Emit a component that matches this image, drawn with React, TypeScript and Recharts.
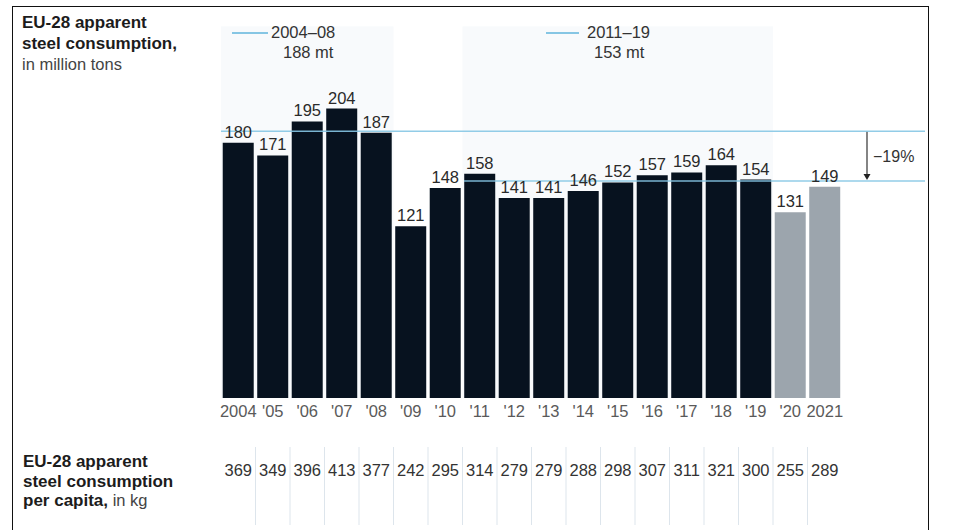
import React from "react";
import { BarChart, Bar, XAxis, YAxis, Cell, LabelList, ReferenceLine, ReferenceArea } from "recharts";

const years = ["2004", "'05", "'06", "'07", "'08", "'09", "'10", "'11", "'12", "'13", "'14", "'15", "'16", "'17", "'18", "'19", "'20", "2021"];
const consumption = [180, 171, 195, 204, 187, 121, 148, 158, 141, 141, 146, 152, 157, 159, 164, 154, 131, 149];
const perCapita = [369, 349, 396, 413, 377, 242, 295, 314, 279, 279, 288, 298, 307, 311, 321, 300, 255, 289];
const greyYears = ["'20", "2021"];
const avg0408 = 188;
const avg1119 = 153;

const data = years.map((year, i) => ({ year, value: consumption[i], capita: perCapita[i] }));

const FONT = "'Liberation Sans', Arial, sans-serif";
const NAVY = "#07121f";
const GREY = "#9ca5ad";
const LINE_BLUE = "#86c6e4";
const LINE_END = 925;

const YearTick = (props: any) => {
    const { x, y, payload, index } = props;
    const slot = 34.5;
    return (
        <g>
            <text x={x} y={y + 13} dy="0.35em" textAnchor="middle" fontSize={16.5} fill="#5a5a5a" fontFamily={FONT}>
                {payload.value}
            </text>
            <text x={x} y={y + 72} dy="0.35em" textAnchor="middle" fontSize={16.5} fill="#333" fontFamily={FONT}>
                {perCapita[index]}
            </text>
            {index > 0 && (
                <line x1={x - slot / 2} x2={x - slot / 2} y1={y + 49} y2={y + 127} stroke="#dde5ec" strokeWidth={1} />
            )}
        </g>
    );
};

const text = (top: number, left: number, content: React.ReactNode, extra: React.CSSProperties = {}) => (
    <div style={{ position: "absolute", top, left, fontSize: 16, lineHeight: "20px", color: "#1c1c1c", whiteSpace: "nowrap", ...extra }}>
        {content}
    </div>
);

export default function App() {
    return (
        <div style={{ position: "absolute", left: 0, top: 0, width: 956, height: 530, background: "#fff", overflow: "hidden", fontFamily: FONT }}>
            <div style={{ position: "absolute", left: 12, top: 6, width: 917, height: 600, border: "1.5px solid #111", boxSizing: "border-box" }} />

            <div style={{ position: "absolute", left: 0, top: 0 }}>
                <BarChart width={956} height={530} data={data} margin={{ top: 15, right: 114, bottom: 0, left: 221 }} barCategoryGap="5%">
                    <YAxis hide domain={[0, 270]} />
                    <XAxis dataKey="year" height={132} axisLine={false} tickLine={false} tickSize={0} tickMargin={0} interval={0} tick={<YearTick />} />
                    <ReferenceArea x1="2004" x2="'08" y1={0} y2={262} fill="#f3f7fa" fillOpacity={0.6} stroke="none" />
                    <ReferenceArea x1="'11" x2="'19" y1={0} y2={262} fill="#f3f7fa" fillOpacity={0.6} stroke="none" />
                    <Bar dataKey="value" isAnimationActive={false}>
                        {data.map((d) => (
                            <Cell key={d.year} fill={greyYears.includes(d.year) ? GREY : NAVY} />
                        ))}
                        <LabelList dataKey="value" position="top" offset={5} fontSize={16.5} fill="#2a2a2a" fontFamily={FONT} />
                    </Bar>
                    <ReferenceLine
                        y={avg0408}
                        shape={(p: any) => (
                            <line x1={p.x1} x2={LINE_END} y1={p.y1} y2={p.y1} stroke={LINE_BLUE} strokeWidth={1.5} strokeOpacity={0.9} />
                        )}
                    />
                    <ReferenceLine
                        y={avg1119}
                        shape={(p: any) => {
                            const slot = (p.x2 - p.x1) / years.length;
                            const start = p.x1 + years.indexOf("'11") * slot + 1.5;
                            return <line x1={start} x2={LINE_END} y1={p.y1} y2={p.y1} stroke={LINE_BLUE} strokeWidth={1.5} strokeOpacity={0.9} />;
                        }}
                    />
                    <ReferenceArea
                        y1={avg1119}
                        y2={avg0408}
                        ifOverflow="visible"
                        shape={(p: any) => {
                            const ax = 867;
                            const top = p.y;
                            const bottom = p.y + p.height;
                            return (
                                <g>
                                    <line x1={ax} x2={ax} y1={top} y2={bottom - 5} stroke="#333" strokeWidth={1.2} />
                                    <path d={`M${ax - 3.5},${bottom - 7} L${ax + 3.5},${bottom - 7} L${ax},${bottom - 1} Z`} fill="#222" />
                                    <text x={873} y={(top + bottom) / 2} dy="0.35em" fontSize={16} fill="#333" fontFamily={FONT}>
                                        −19%
                                    </text>
                                </g>
                            );
                        }}
                    />
                </BarChart>
            </div>

            {text(13, 22, <><b>EU-28 apparent</b><br /><b>steel consumption,</b><br /><span style={{ color: "#444", fontSize: 16.5 }}>in million tons</span></>, { fontSize: 17, lineHeight: "20.5px" })}
            {text(452, 23, <><b>EU-28 apparent</b><br /><b>steel consumption</b><br /><b>per capita,</b><span style={{ color: "#444", fontSize: 16.5 }}> in kg</span></>, { fontSize: 17, lineHeight: "19.5px" })}

            <div style={{ position: "absolute", left: 232, top: 32, width: 36, height: 1.5, background: LINE_BLUE }} />
            {text(22, 271, "2004–08", { color: "#333", fontSize: 16.5 })}
            {text(42, 283, "188 mt", { color: "#333", fontSize: 16.5 })}
            <div style={{ position: "absolute", left: 546, top: 32, width: 33, height: 1.5, background: LINE_BLUE }} />
            {text(22, 587, "2011–19", { color: "#333", fontSize: 16.5 })}
            {text(42, 594, "153 mt", { color: "#333", fontSize: 16.5 })}
        </div>
    );
}
